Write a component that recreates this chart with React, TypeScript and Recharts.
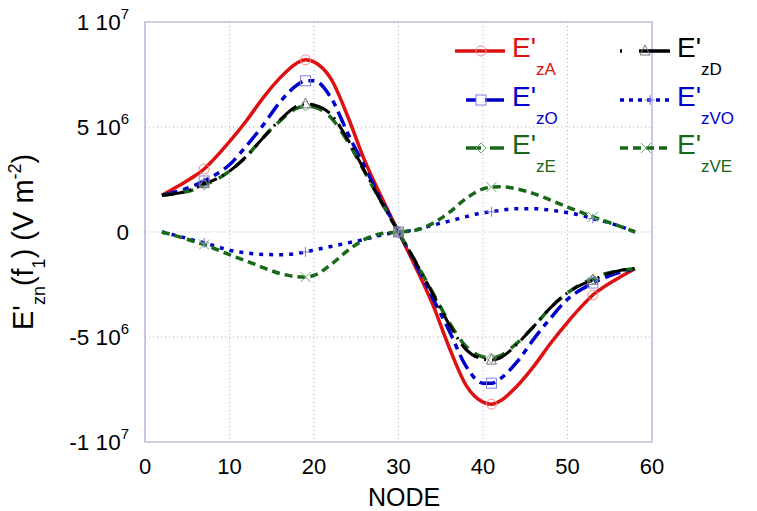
import { CartesianGrid, Line, LineChart, ReferenceArea, XAxis, YAxis } from "recharts";

// node index along the line; values in units of 1e6 V m^-2
const nodes = [2, 4, 6, 7, 8, 10, 12, 14, 16, 18, 19, 20, 22, 24, 26, 28, 30, 32, 34, 36, 38, 40, 41, 42, 44, 46, 48, 50, 52, 53, 54, 56, 58];

const ezA = [1.75, 2.2, 2.7, 3.0, 3.4, 4.3, 5.3, 6.4, 7.35, 8.05, 8.2, 8.1, 7.3, 5.5, 3.4, 1.65, 0, -1.65, -3.4, -5.5, -7.3, -8.1, -8.2, -8.05, -7.35, -6.4, -5.3, -4.3, -3.4, -3.0, -2.7, -2.2, -1.75];
const ezO = [1.75, 1.95, 2.25, 2.43, 2.65, 3.2, 4.1, 5.1, 6.2, 7.0, 7.2, 7.2, 6.4, 4.7, 3.1, 1.5, 0, -1.5, -3.1, -4.7, -6.4, -7.2, -7.2, -7.0, -6.2, -5.1, -4.1, -3.2, -2.65, -2.43, -2.25, -1.95, -1.75];
const ezD = [1.75, 1.85, 2.1, 2.3, 2.45, 2.9, 3.6, 4.5, 5.35, 6.0, 6.1, 6.05, 5.6, 4.4, 2.9, 1.4, 0, -1.4, -2.9, -4.4, -5.6, -6.05, -6.1, -6.0, -5.35, -4.5, -3.6, -2.9, -2.45, -2.3, -2.1, -1.85, -1.75];
const ezE = [1.75, 1.85, 2.05, 2.25, 2.4, 2.9, 3.6, 4.5, 5.3, 5.9, 6.0, 5.95, 5.45, 4.3, 2.85, 1.4, 0, -1.4, -2.85, -4.3, -5.45, -5.95, -6.0, -5.9, -5.3, -4.5, -3.6, -2.9, -2.4, -2.25, -2.05, -1.85, -1.75];
const ezVO = [0, -0.2, -0.42, -0.52, -0.63, -0.87, -1.0, -1.07, -1.08, -1.02, -0.95, -0.86, -0.69, -0.52, -0.35, -0.14, 0, 0.1, 0.32, 0.52, 0.73, 0.92, 0.96, 1.03, 1.11, 1.11, 1.04, 0.92, 0.76, 0.64, 0.54, 0.3, 0];
const ezVE = [0, -0.22, -0.48, -0.6, -0.75, -1.08, -1.38, -1.7, -1.98, -2.13, -2.15, -2.07, -1.55, -0.88, -0.35, -0.07, 0, 0.08, 0.4, 0.93, 1.6, 2.05, 2.14, 2.16, 2.05, 1.83, 1.52, 1.19, 0.88, 0.72, 0.58, 0.3, 0];

const markerNodes = [7, 19, 30, 41, 53];

const xTicks = [0, 10, 20, 30, 40, 50, 60];
const yTicks = [-10, -5, 0, 5, 10];
const yTickBases = ["-1 10", "-5 10", "0", "5 10", "1 10"];
const yTickExps = ["7", "6", "", "6", "7"];

const data = nodes.map((node, i) => ({
  node,
  zA: ezA[i],
  zO: ezO[i],
  zD: ezD[i],
  zE: ezE[i],
  zVO: ezVO[i],
  zVE: ezVE[i],
}));

const FONT = "'Liberation Sans', Arial, sans-serif";
const FRAME = "#a9a9de";

type Shape = "circle" | "square" | "triangle" | "diamond" | "plus" | "cross";

const Marker = ({ cx, cy, shape, color }: { cx: number; cy: number; shape: Shape; color: string }) => {
  const r = 5;
  const common = { fill: "none", stroke: color, strokeWidth: 1 };
  switch (shape) {
    case "circle":
      return <circle cx={cx} cy={cy} r={r} {...common} />;
    case "square":
      return <rect x={cx - r} y={cy - r} width={2 * r} height={2 * r} {...common} />;
    case "triangle":
      return <polygon points={`${cx},${cy - r - 1} ${cx + r},${cy + r - 1} ${cx - r},${cy + r - 1}`} {...common} />;
    case "diamond":
      return <polygon points={`${cx},${cy - r} ${cx + r},${cy} ${cx},${cy + r} ${cx - r},${cy}`} {...common} />;
    case "plus":
      return (
        <g {...common}>
          <line x1={cx - r} y1={cy} x2={cx + r} y2={cy} />
          <line x1={cx} y1={cy - r} x2={cx} y2={cy + r} />
        </g>
      );
    default:
      return (
        <g {...common}>
          <line x1={cx - r} y1={cy - r} x2={cx + r} y2={cy + r} />
          <line x1={cx - r} y1={cy + r} x2={cx + r} y2={cy - r} />
        </g>
      );
  }
};

const series = [
  { key: "zA", color: "#dd1111", dash: undefined, width: 3.5, shape: "circle" as Shape, mcolor: "#f08a8a" },
  { key: "zO", color: "#0000cc", dash: "16 6 6 6", width: 3.5, shape: "square" as Shape, mcolor: "#8080dd" },
  { key: "zE", color: "#186818", dash: "12 8", width: 3.5, shape: "diamond" as Shape, mcolor: "#70a870" },
  { key: "zD", color: "#000000", dash: "22 6 2 6", width: 3, shape: "triangle" as Shape, mcolor: "#777777" },
  { key: "zVO", color: "#0000cc", dash: "4 6", width: 3.5, shape: "plus" as Shape, mcolor: "#7a7ad8" },
  { key: "zVE", color: "#186818", dash: "8 5", width: 3.5, shape: "cross" as Shape, mcolor: "#70a870" },
];

const legendItems = [
  { x: 455, y: 51, sub: "zA", color: "#dd1111", dash: undefined, shape: "circle" as Shape, mcolor: "#f08a8a", mx: 481 },
  { x: 620, y: 51, sub: "zD", color: "#000000", dash: "2 17 30 0", shape: "triangle" as Shape, mcolor: "#777777", mx: 645 },
  { x: 466, y: 100, sub: "zO", color: "#0000cc", dash: "10 9 30 0", shape: "square" as Shape, mcolor: "#8080dd", mx: 481 },
  { x: 620, y: 100, sub: "zVO", color: "#0000cc", dash: "4 5", shape: "plus" as Shape, mcolor: "#7a7ad8", mx: 650 },
  { x: 466, y: 148, sub: "zE", color: "#186818", dash: "15 9 14 0", shape: "diamond" as Shape, mcolor: "#70a870", mx: 481 },
  { x: 620, y: 148, sub: "zVE", color: "#186818", dash: "8 5", shape: "cross" as Shape, mcolor: "#70a870", mx: 646 },
];

const YTick = ({ y, payload }: any) => {
  const i = yTicks.indexOf(payload.value);
  return (
    <text x={129} y={y + 8} textAnchor="end" fontSize={22.5} fontFamily={FONT} fill="#000">
      {yTickBases[i]}
      {yTickExps[i] && (
        <tspan dy={-11} fontSize={15}>
          {yTickExps[i]}
        </tspan>
      )}
    </text>
  );
};

const XTick = ({ x, payload }: any) => (
  <text x={x} y={474} textAnchor="middle" fontSize={22} fontFamily={FONT} fill="#000">
    {payload.value}
  </text>
);

export default function App() {
  return (
    <div style={{ position: "absolute", left: 0, top: 0, width: 757, height: 511, background: "#fff" }}>
      <LineChart width={757} height={511} data={data} margin={{ top: 22, right: 105, bottom: 0, left: 0 }}>
        <CartesianGrid stroke={FRAME} strokeDasharray="1 3" />
        <XAxis
          dataKey="node"
          type="number"
          domain={[0, 60]}
          ticks={xTicks}
          height={69}
          axisLine={false}
          tickLine={false}
          tick={<XTick />}
        />
        <YAxis
          type="number"
          domain={[-10, 10]}
          ticks={yTicks}
          width={145}
          axisLine={false}
          tickLine={false}
          tick={<YTick />}
        />
        <ReferenceArea x1={0} x2={60} y1={-10} y2={10} fill="none" stroke={FRAME} strokeWidth={1.2} />
        {series.map((s) => (
          <Line
            key={s.key}
            dataKey={s.key}
            type="monotone"
            stroke={s.color}
            strokeWidth={s.width}
            strokeDasharray={s.dash}
            isAnimationActive={false}
            activeDot={false}
            dot={(p: any) =>
              markerNodes.includes(p.payload.node) ? (
                <Marker key={`${s.key}-${p.index}`} cx={p.cx} cy={p.cy} shape={s.shape} color={s.mcolor} />
              ) : (
                <g key={`${s.key}-${p.index}`} />
              )
            }
          />
        ))}
      </LineChart>
      <svg width={757} height={511} style={{ position: "absolute", left: 0, top: 0, pointerEvents: "none" }} fontFamily={FONT}>
        <text x={404} y={506} textAnchor="middle" fontSize={25}>
          NODE
        </text>
        <text transform="translate(33 330) rotate(-90)" fontSize={29}>
          E'
          <tspan dy={12} fontSize={18}>zn</tspan>
          <tspan dy={-12}>(f</tspan>
          <tspan dy={12} fontSize={18}>1</tspan>
          <tspan dy={-12}>) (V m</tspan>
          <tspan dy={-12} fontSize={18}>-2</tspan>
          <tspan dy={12}>)</tspan>
        </text>
        {legendItems.map((it) => (
          <g key={it.sub}>
            <line
              x1={it.x}
              y1={it.y}
              x2={it.x === 466 ? 504 : it.x + 50}
              y2={it.y}
              stroke={it.color}
              strokeWidth={3.5}
              strokeDasharray={it.dash}
            />
            <Marker cx={it.mx} cy={it.y} shape={it.shape} color={it.mcolor} />
            <text x={it.x < 500 ? 512 : 677} y={it.y + 6} fontSize={28} fill={it.color}>
              E'
              <tspan dy={18} fontSize={17}>{it.sub}</tspan>
            </text>
          </g>
        ))}
      </svg>
    </div>
  );
}
